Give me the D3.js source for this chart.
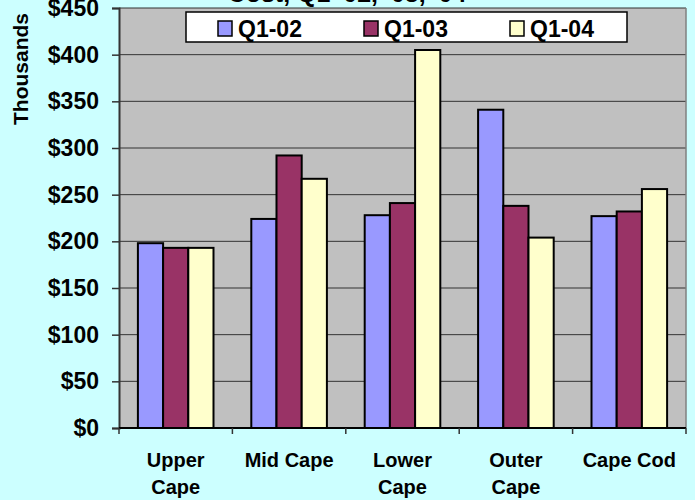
<!DOCTYPE html>
<html>
<head>
<meta charset="utf-8">
<script src="https://cdn.jsdelivr.net/npm/d3@7/dist/d3.min.js"></script>
<style>
  html, body { margin: 0; padding: 0; background: #ccffff; }
  svg { display: block; }
  text { font-family: "Liberation Sans", Arial, sans-serif; font-weight: bold; fill: #000; }
</style>
</head>
<body>
<svg id="chart" width="695" height="500"></svg>
<script>
// Regions and quarterly cost (thousands of dollars)
const regions = [["Upper", "Cape"], ["Mid Cape"], ["Lower", "Cape"], ["Outer", "Cape"], ["Cape Cod"]];
const regionKeys = ["Upper Cape", "Mid Cape", "Lower Cape", "Outer Cape", "Cape Cod"];
const seriesNames = ["Q1-02", "Q1-03", "Q1-04"];
const q102 = [198, 224, 228, 341, 227];
const q103 = [193, 292, 241, 238, 232];
const q104 = [193, 267, 405, 204, 256];
const seriesColors = ["#9999ff", "#993366", "#ffffcc"];
const yTicks = [0, 50, 100, 150, 200, 250, 300, 350, 400, 450];
const titleText = "Cost, Q1 '02, '03, '04";
const unitLabel = "Thousands";

const seriesValues = [q102, q103, q104];

const svg = d3.select("#chart");
const plot = { left: 119, right: 686, top: 8, bottom: 428 };

const x = d3.scaleBand().domain(regionKeys).range([plot.left, plot.right]).paddingInner(0).paddingOuter(0);
const xs = d3.scaleBand().domain(seriesNames).range([0, x.bandwidth()]).paddingInner(0).paddingOuter(0.75);
const y = d3.scaleLinear().domain([0, 450]).range([plot.bottom, plot.top]);

// Title (top edge runs off the canvas)
svg.append("text")
  .attr("x", 347).attr("y", 2)
  .attr("text-anchor", "middle")
  .style("font-size", "25px")
  .text(titleText);

// Plot area
svg.append("rect")
  .attr("x", plot.left).attr("y", plot.top)
  .attr("width", plot.right - plot.left).attr("height", plot.bottom - plot.top)
  .attr("fill", "#c0c0c0");

// Horizontal gridlines
svg.append("g").selectAll("line")
  .data(yTicks.filter(d => d > 0))
  .join("line")
  .attr("x1", plot.left).attr("x2", plot.right)
  .attr("y1", d => y(d)).attr("y2", d => y(d))
  .attr("stroke", "#333").attr("stroke-width", 1);

// Right edge of plot area
svg.append("line")
  .attr("x1", plot.right).attr("x2", plot.right)
  .attr("y1", plot.top).attr("y2", plot.bottom)
  .attr("stroke", "#808080").attr("stroke-width", 1.5);

// Bars
const groups = svg.append("g").selectAll("g")
  .data(regionKeys)
  .join("g")
  .attr("transform", d => `translate(${x(d)},0)`);

groups.selectAll("rect")
  .data((d, i) => seriesNames.map((s, j) => ({ s, j, v: seriesValues[j][i] })))
  .join("rect")
  .attr("x", d => xs(d.s))
  .attr("width", xs.bandwidth())
  .attr("y", d => y(d.v))
  .attr("height", d => y(0) - y(d.v))
  .attr("fill", d => seriesColors[d.j])
  .attr("stroke", "#000")
  .attr("stroke-width", 2);

// Y axis
const yAxis = svg.append("g")
  .attr("transform", `translate(${plot.left},0)`)
  .call(d3.axisLeft(y).tickValues(yTicks).tickSize(7).tickPadding(13).tickFormat(d => "$" + d));
yAxis.select(".domain").attr("stroke", "#333").attr("stroke-width", 2);
yAxis.selectAll(".tick line").attr("stroke", "#333").attr("stroke-width", 1.5);
yAxis.selectAll(".tick text")
  .style("font-size", "23px")
  .style("font-family", "'Liberation Sans', Arial, sans-serif")
  .style("font-weight", "bold")
  .attr("fill", "#000");

// X axis baseline and category separators
svg.append("line")
  .attr("x1", plot.left).attr("x2", plot.right)
  .attr("y1", plot.bottom).attr("y2", plot.bottom)
  .attr("stroke", "#000").attr("stroke-width", 2);
svg.append("g").selectAll("line")
  .data(regionKeys.map(k => x(k)).concat([plot.right]))
  .join("line")
  .attr("x1", d => d).attr("x2", d => d)
  .attr("y1", plot.bottom).attr("y2", plot.bottom + 6)
  .attr("stroke", "#333").attr("stroke-width", 1.5);

// Category labels
svg.append("g").selectAll("text")
  .data(regionKeys)
  .join("text")
  .attr("text-anchor", "middle")
  .style("font-size", "20px")
  .each(function (d, i) {
    const t = d3.select(this);
    regions[i].forEach((line, k) => {
      t.append("tspan")
        .attr("x", x(d) + x.bandwidth() / 2)
        .attr("y", 467 + k * 26.5)
        .text(line);
    });
  });

// Unit label
svg.append("text")
  .attr("transform", "translate(28,69) rotate(-90)")
  .attr("text-anchor", "middle")
  .style("font-size", "21px")
  .text(unitLabel);

// Legend
const legend = svg.append("g");
legend.append("rect")
  .attr("x", 186).attr("y", 12).attr("width", 441).attr("height", 30)
  .attr("fill", "#fff").attr("stroke", "#000").attr("stroke-width", 1.5);
const items = legend.selectAll("g.item")
  .data(seriesNames)
  .join("g")
  .attr("class", "item")
  .attr("transform", (d, i) => `translate(${218 + i * 146},0)`);
items.append("rect")
  .attr("x", 0).attr("y", 21).attr("width", 14).attr("height", 15)
  .attr("fill", (d, i) => seriesColors[i])
  .attr("stroke", "#000").attr("stroke-width", 1.5);
items.append("text")
  .attr("x", 20).attr("y", 37)
  .style("font-size", "23px")
  .text(d => d);
</script>
</body>
</html>
